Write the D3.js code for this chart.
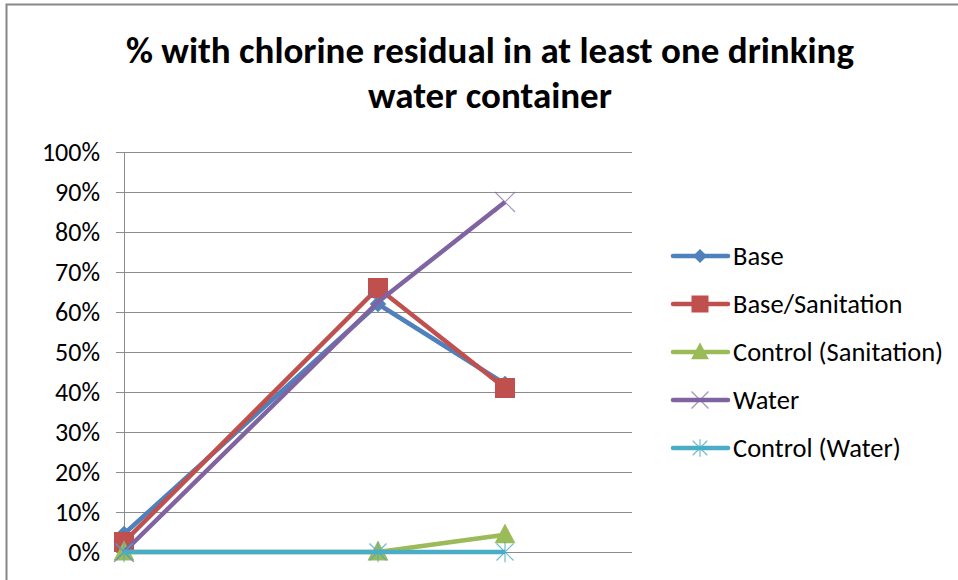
<!DOCTYPE html>
<html>
<head>
<meta charset="utf-8">
<script src="https://cdn.jsdelivr.net/npm/d3@7"></script>
<style>
  body { margin: 0; background: #fff; }
  text { font-family: Carlito, Lato, "Liberation Sans", sans-serif; }
</style>
</head>
<body>
<script>
// Set up size
var width = 958;
var height = 580;

// Chart data
var xValues = [0, 2, 3];
var seriesNames = ["Base", "Base/Sanitation", "Control (Sanitation)", "Water", "Control (Water)"];
var baseVals = [0.045, 0.62, 0.42];
var baseSanVals = [0.025, 0.66, 0.41];
var controlSanVals = [0, 0, 0.043];
var waterVals = [0, 0.625, 0.875];
var controlWaterVals = [0, 0, 0];
var yTicks = [0, 0.1, 0.2, 0.3, 0.4, 0.5, 0.6, 0.7, 0.8, 0.9, 1.0];
var titleLines = ["% with chlorine residual in at least one drinking", "water container"];

var colors = ["#4F81BD", "#C0504D", "#9BBB59", "#8064A2", "#4BACC6"];
var markers = ["diamond", "square", "triangle", "x", "star"];
var allVals = [baseVals, baseSanVals, controlSanVals, waterVals, controlWaterVals];

var series = seriesNames.map(function(name, i) {
  return {
    name: name,
    color: colors[i],
    marker: markers[i],
    points: xValues.map(function(x, j) { return {x: x, y: allVals[i][j]}; })
  };
});

var svg = d3.select('body').append('svg')
  .attr('width', width)
  .attr('height', height);

// chart area border
svg.append('rect')
  .attr('x', 6.5).attr('y', 4.5)
  .attr('width', 1000).attr('height', 700)
  .attr('fill', '#fff')
  .attr('stroke', '#868686')
  .attr('stroke-width', 2);

// scales
var plotLeft = 124, plotRight = 632, plotTop = 152, plotBottom = 552;
var x = d3.scaleLinear().domain([0, 4]).range([plotLeft, plotRight]);
var y = d3.scaleLinear().domain([0, 1]).range([plotBottom, plotTop]);

// title
svg.append('g').selectAll('text')
  .data(titleLines)
  .enter().append('text')
  .attr('x', 490)
  .attr('y', function(d, i) { return 63 + i * 45; })
  .attr('text-anchor', 'middle')
  .attr('font-size', '37px')
  .attr('font-weight', 'bold')
  .attr('fill', '#000')
  .text(function(d) { return d; });

// gridlines
svg.append('g').selectAll('line')
  .data(yTicks)
  .enter().append('line')
  .attr('x1', plotLeft - 8)
  .attr('x2', plotRight)
  .attr('y1', function(d) { return Math.round(y(d)) + 0.5; })
  .attr('y2', function(d) { return Math.round(y(d)) + 0.5; })
  .attr('stroke', '#8c8c8c')
  .attr('stroke-width', 1);

// y axis
var yAxis = d3.axisLeft(y)
  .tickValues(yTicks)
  .tickFormat(d3.format('.0%'))
  .tickSize(0)
  .tickPadding(24);

var yg = svg.append('g')
  .attr('transform', 'translate(' + plotLeft + ',0.5)')
  .call(yAxis);
yg.select('.domain').attr('stroke', '#8c8c8c');
yg.selectAll('text')
  .attr('font-size', '26px')
  .attr('fill', '#000')
  .attr('font-family', 'Carlito, Lato, "Liberation Sans", sans-serif');

// marker drawing
function drawMarker(g, type, color, size) {
  var s = size;
  if (type === 'diamond') {
    g.append('path')
      .attr('d', 'M0,' + (-s * 0.55) + 'L' + (s * 0.55) + ',0L0,' + (s * 0.55) + 'L' + (-s * 0.55) + ',0Z')
      .attr('fill', color);
  } else if (type === 'square') {
    g.append('rect')
      .attr('x', -s / 2).attr('y', -s / 2)
      .attr('width', s).attr('height', s)
      .attr('fill', color);
  } else if (type === 'triangle') {
    g.append('path')
      .attr('d', 'M0,' + (-s * 0.6) + 'L' + (s * 0.55) + ',' + (s * 0.45) + 'L' + (-s * 0.55) + ',' + (s * 0.45) + 'Z')
      .attr('fill', color);
  } else if (type === 'x') {
    g.append('path')
      .attr('d', 'M' + (-s / 2) + ',' + (-s / 2) + 'L' + (s / 2) + ',' + (s / 2) + 'M' + (s / 2) + ',' + (-s / 2) + 'L' + (-s / 2) + ',' + (s / 2))
      .attr('stroke', color).attr('stroke-width', 1.2).attr('fill', 'none').attr('opacity', 0.7);
  } else if (type === 'star') {
    g.append('path')
      .attr('d', 'M' + (-s / 2) + ',' + (-s / 2) + 'L' + (s / 2) + ',' + (s / 2) + 'M' + (s / 2) + ',' + (-s / 2) + 'L' + (-s / 2) + ',' + (s / 2) + 'M0,' + (-s * 0.6) + 'L0,' + (s * 0.6))
      .attr('stroke', color).attr('stroke-width', 1.2).attr('fill', 'none').attr('opacity', 0.8);
  }
}

var markerSize = {diamond: 15, square: 20, triangle: 19, x: 20, star: 17};

// lines
var line = d3.line()
  .x(function(d) { return x(d.x); })
  .y(function(d) { return y(d.y); });

var plotGroup = svg.append('g');
series.forEach(function(s) {
  var g = plotGroup.append('g');
  g.append('path')
    .datum(s.points)
    .attr('d', line)
    .attr('fill', 'none')
    .attr('stroke', s.color)
    .attr('stroke-width', 4.5)
    .attr('stroke-linejoin', 'round');
  s.points.forEach(function(p) {
    var m = g.append('g').attr('transform', 'translate(' + x(p.x) + ',' + y(p.y) + ')');
    drawMarker(m, s.marker, s.color, markerSize[s.marker]);
  });
});

// legend
var legend = svg.append('g');
series.forEach(function(s, i) {
  var ly = 256 + i * 48;
  var lg = legend.append('g').attr('transform', 'translate(0,' + ly + ')');
  lg.append('line')
    .attr('x1', 673).attr('x2', 728)
    .attr('y1', 0).attr('y2', 0)
    .attr('stroke', s.color)
    .attr('stroke-width', 4.5)
    .attr('stroke-linecap', 'round');
  var m = lg.append('g').attr('transform', 'translate(700,0)');
  drawMarker(m, s.marker, s.color, markerSize[s.marker] * 0.85);
  lg.append('text')
    .attr('x', 733)
    .attr('y', 9)
    .attr('font-size', '26.5px')
    .attr('fill', '#000')
    .text(s.name);
});
</script>
</body>
</html>
